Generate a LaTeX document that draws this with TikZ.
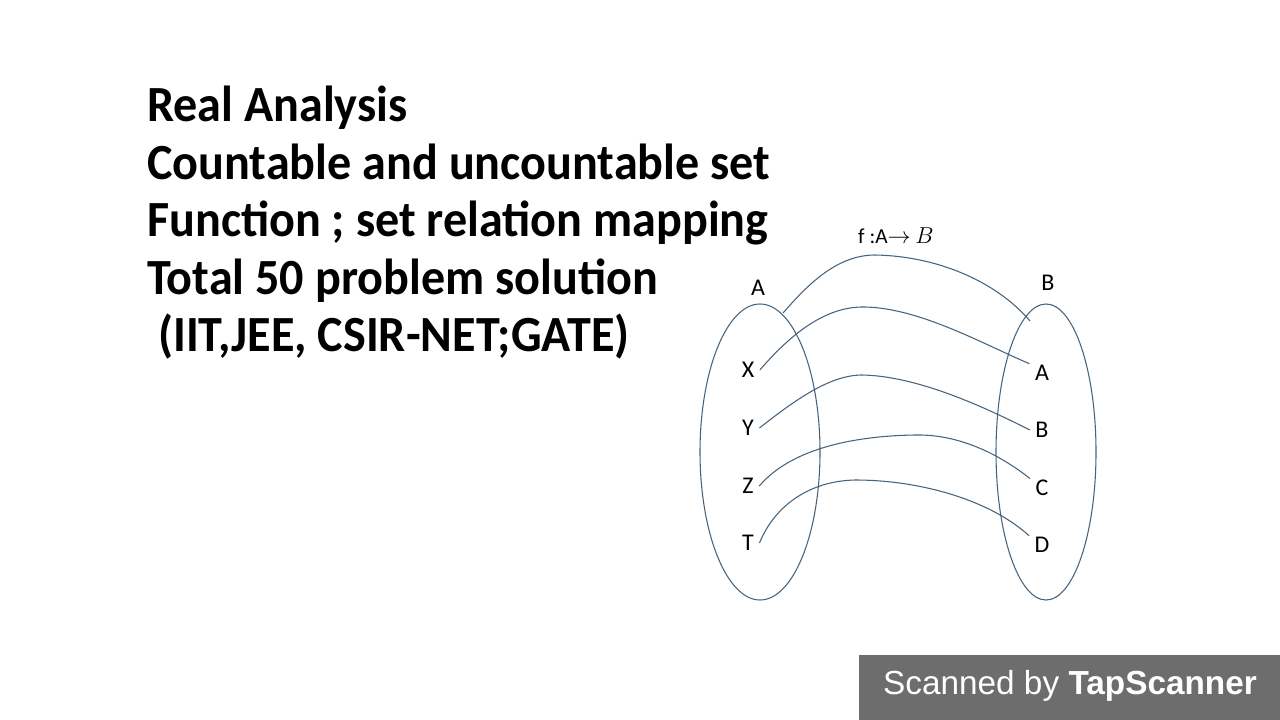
\documentclass[tikz,border=0pt]{standalone}
\usepackage{fontspec}
\setmainfont{Carlito}
\newfontfamily\titlefont[FakeStretch=0.95]{Carlito}
\newfontfamily\helv{Liberation Sans}
\definecolor{linec}{RGB}{72,100,124}
\definecolor{bannerc}{RGB}{109,109,109}
\begin{document}
\begin{tikzpicture}[x=0.75pt,y=-0.75pt,
  title/.style={anchor=base west,inner sep=0pt,font=\titlefont\fontsize{38}{44}\selectfont\bfseries},
  lbl/.style={inner xsep=4pt,inner ysep=1pt,font=\fontsize{18}{20}\selectfont},
  setell/.style={draw=linec,line width=0.8pt},
  maparc/.style={draw=linec,line width=0.8pt}]
\useasboundingbox (0,0) rectangle (1280,720);
\fill[white] (0,0) rectangle (1280,720);
% title text
\node[title] (t1) at (147,122) {Real Analysis};
\node[title] (t2) at (147,180) {Countable and uncountable set};
\node[title] (t3) at (147,237) {Function ; set relation mapping};
\node[title] (t4) at (147,294) {Total 50 problem solution};
\node[title] (t5) at (147,351) {\ (IIT,JEE, CSIR-NET;GATE)};
% sets
\draw[setell] (760,452) ellipse [x radius=60, y radius=148];
\draw[setell] (1046,452) ellipse [x radius=50, y radius=148];
\node[lbl] (SA) at (758,288) {A};
\node[lbl] (SB) at (1048,283) {B};
\node[lbl,font=\fontsize{16}{18}\selectfont] (fl) at (896,236) {f :A$\rightarrow$ $B$};
% elements
\node[lbl] (X) at (748,370) {X};
\node[lbl] (Y) at (748,428) {Y};
\node[lbl] (Z) at (748,486) {Z};
\node[lbl] (T) at (748,543) {T};
\node[lbl] (A2) at (1042,373) {A};
\node[lbl] (B2) at (1042,430) {B};
\node[lbl] (C2) at (1042,488) {C};
\node[lbl] (D2) at (1042,545) {D};
\coordinate (top1) at (783,313);
\coordinate (top2) at (1030,321);
% mapping arcs
\draw[maparc] (top1) .. controls (805,288) and (835,255) .. (875,255) .. controls (935,256) and (995,280) .. (top2);
\draw[maparc] (X.east) .. controls (790,335) and (825,306) .. (865,307) .. controls (920,308) and (985,345) .. (A2.north west);
\draw[maparc] (Y.east) .. controls (795,400) and (830,375) .. (862,375) .. controls (920,376) and (990,410) .. (B2.west);
\draw[maparc] (Z.east) .. controls (790,450) and (850,436) .. (915,435) .. controls (960,434) and (1000,455) .. (C2.north west);
\draw[maparc] (T.east) .. controls (775,505) and (810,481) .. (855,480) .. controls (920,480) and (990,500) .. (D2.north west);
% banner
\fill[bannerc] (859,655) rectangle (1280,720);
\node[text=white,font=\helv\fontsize{25}{29}\selectfont,inner sep=0pt] (ban) at (1070,686) {Scanned by \textbf{TapScanner}};
\end{tikzpicture}
\end{document}
